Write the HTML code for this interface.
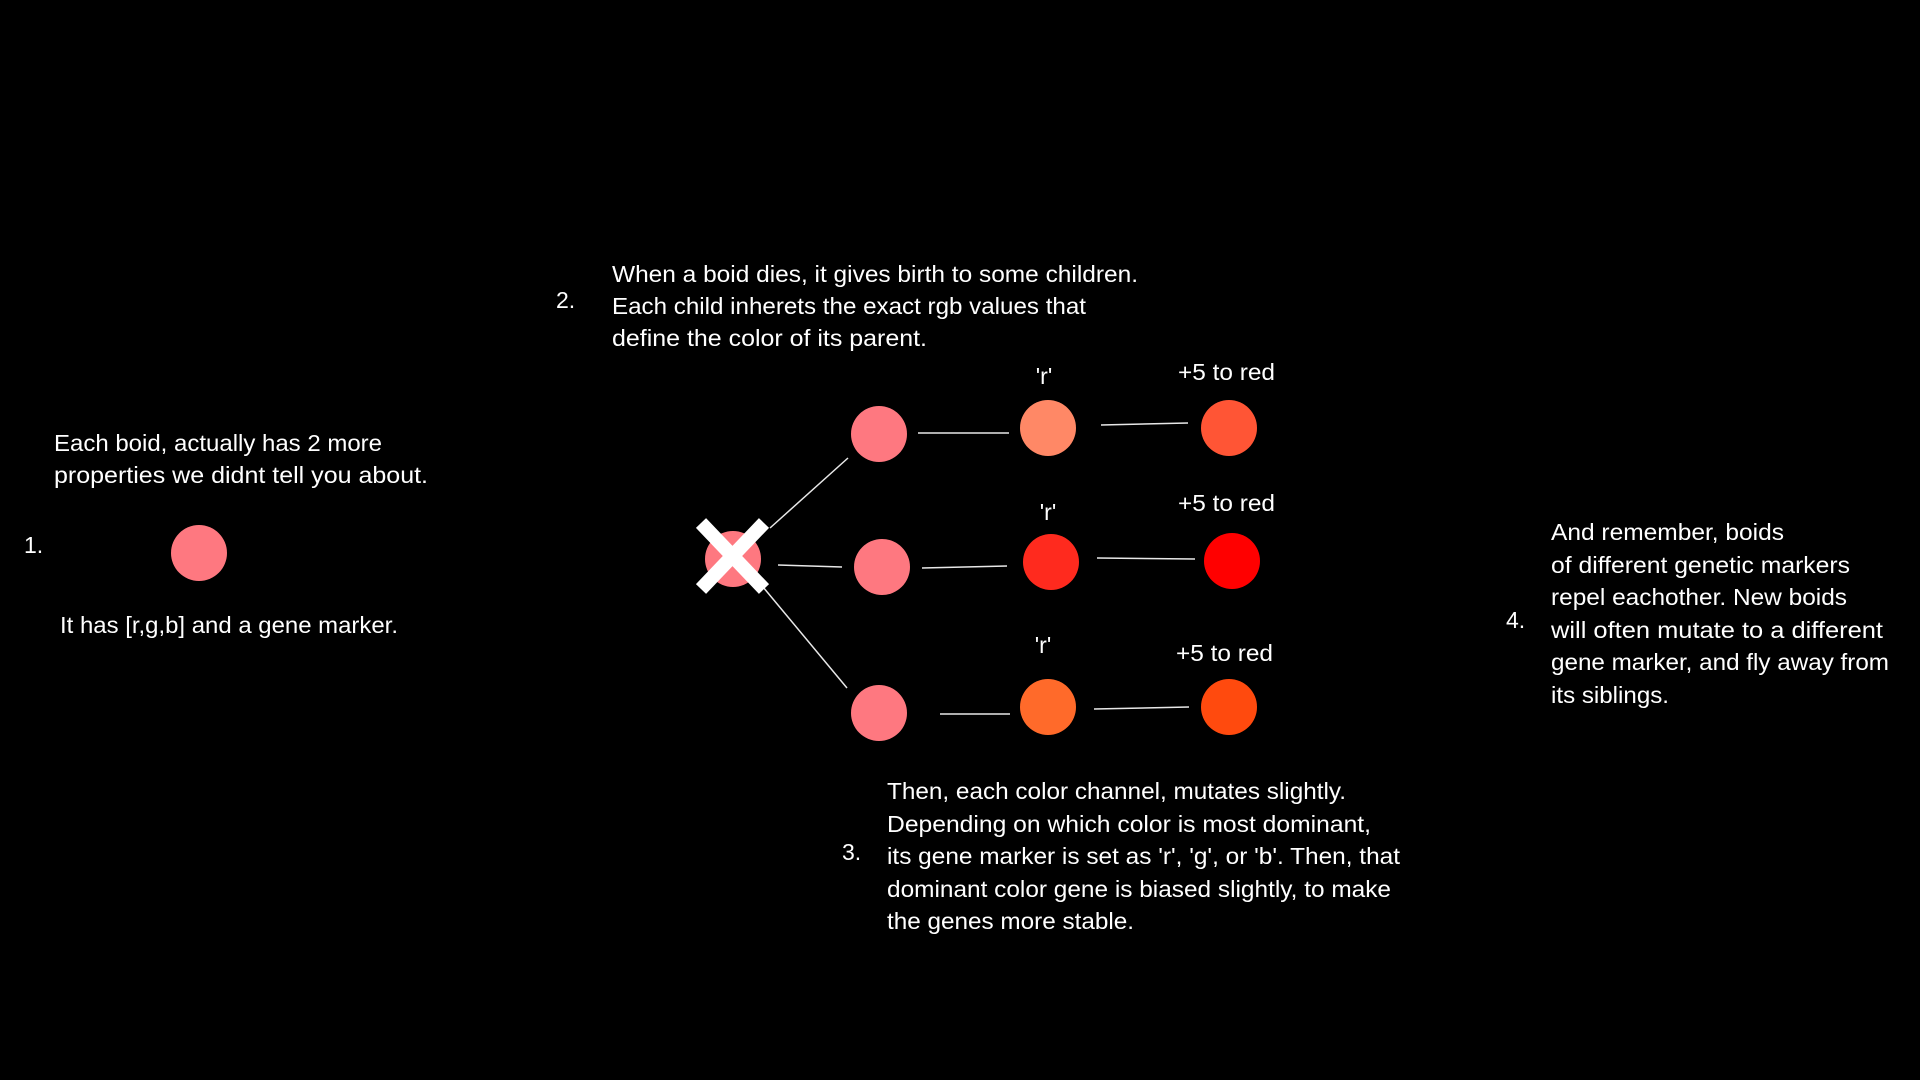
<!DOCTYPE html>
<html><head><meta charset="utf-8"><style>
html,body{margin:0;padding:0;background:#000;width:1920px;height:1080px;overflow:hidden}
svg{display:block}
text{font-family:"Liberation Sans",sans-serif;font-size:23px;fill:#fff}
</style></head><body>
<svg width="1920" height="1080" viewBox="0 0 1920 1080">
<rect width="1920" height="1080" fill="#000"/>
<!-- section 1 -->
<text x="54" y="451" textLength="328" lengthAdjust="spacingAndGlyphs">Each boid, actually has 2 more</text>
<text x="54" y="483" textLength="374" lengthAdjust="spacingAndGlyphs">properties we didnt tell you about.</text>
<text x="24" y="553">1.</text>
<circle cx="199" cy="553" r="28" fill="#fe7880"/>
<text x="60" y="633" textLength="338" lengthAdjust="spacingAndGlyphs">It has [r,g,b] and a gene marker.</text>
<!-- section 2 -->
<text x="556" y="308">2.</text>
<text x="612" y="282" textLength="526" lengthAdjust="spacingAndGlyphs">When a boid dies, it gives birth to some children.</text>
<text x="612" y="314" textLength="474" lengthAdjust="spacingAndGlyphs">Each child inherets the exact rgb values that</text>
<text x="612" y="346" textLength="315" lengthAdjust="spacingAndGlyphs">define the color of its parent.</text>
<!-- lines -->
<g stroke="#e8e8e8" stroke-width="1.5">
<line x1="770" y1="528" x2="848" y2="458"/>
<line x1="778" y1="565" x2="842" y2="567"/>
<line x1="763" y1="587" x2="847" y2="688"/>
<line x1="918" y1="433" x2="1009" y2="433"/>
<line x1="922" y1="568" x2="1007" y2="566"/>
<line x1="940" y1="714" x2="1010" y2="714"/>
<line x1="1101" y1="425" x2="1188" y2="423"/>
<line x1="1097" y1="558" x2="1195" y2="559"/>
<line x1="1094" y1="709" x2="1189" y2="707"/>
</g>
<!-- parent with X -->
<circle cx="733" cy="559" r="28" fill="#fe7880"/>
<g stroke="#fff" stroke-width="14">
<line x1="701" y1="523" x2="764" y2="589"/>
<line x1="764" y1="523" x2="701" y2="589"/>
</g>
<!-- children -->
<circle cx="879" cy="434" r="28" fill="#fe7880"/>
<circle cx="882" cy="567" r="28" fill="#fe7880"/>
<circle cx="879" cy="713" r="28" fill="#fe7880"/>
<circle cx="1048" cy="428" r="28" fill="#ff8866"/>
<circle cx="1051" cy="562" r="28" fill="#ff2a1e"/>
<circle cx="1048" cy="707" r="28" fill="#ff6a2a"/>
<circle cx="1229" cy="428" r="28" fill="#ff5535"/>
<circle cx="1232" cy="561" r="28" fill="#ff0000"/>
<circle cx="1229" cy="707" r="28" fill="#ff4a0e"/>
<!-- labels -->
<text x="1044" y="384" text-anchor="middle">'r'</text>
<text x="1048" y="520" text-anchor="middle">'r'</text>
<text x="1043" y="653" text-anchor="middle">'r'</text>
<text x="1178" y="380" textLength="97" lengthAdjust="spacingAndGlyphs">+5 to red</text>
<text x="1178" y="511" textLength="97" lengthAdjust="spacingAndGlyphs">+5 to red</text>
<text x="1176" y="661" textLength="97" lengthAdjust="spacingAndGlyphs">+5 to red</text>
<!-- section 3 -->
<text x="842" y="860">3.</text>
<text x="887" y="799" textLength="459" lengthAdjust="spacingAndGlyphs">Then, each color channel, mutates slightly.</text>
<text x="887" y="832" textLength="484" lengthAdjust="spacingAndGlyphs">Depending on which color is most dominant,</text>
<text x="887" y="864" textLength="513" lengthAdjust="spacingAndGlyphs">its gene marker is set as 'r', 'g', or 'b'. Then, that</text>
<text x="887" y="897" textLength="504" lengthAdjust="spacingAndGlyphs">dominant color gene is biased slightly, to make</text>
<text x="887" y="929" textLength="247" lengthAdjust="spacingAndGlyphs">the genes more stable.</text>
<!-- section 4 -->
<text x="1506" y="628">4.</text>
<text x="1551" y="540" textLength="233" lengthAdjust="spacingAndGlyphs">And remember, boids</text>
<text x="1551" y="573" textLength="299" lengthAdjust="spacingAndGlyphs">of different genetic markers</text>
<text x="1551" y="605" textLength="296" lengthAdjust="spacingAndGlyphs">repel eachother. New boids</text>
<text x="1551" y="638" textLength="332" lengthAdjust="spacingAndGlyphs">will often mutate to a different</text>
<text x="1551" y="670" textLength="338" lengthAdjust="spacingAndGlyphs">gene marker, and fly away from</text>
<text x="1551" y="703" textLength="118" lengthAdjust="spacingAndGlyphs">its siblings.</text>
</svg>
</body></html>
